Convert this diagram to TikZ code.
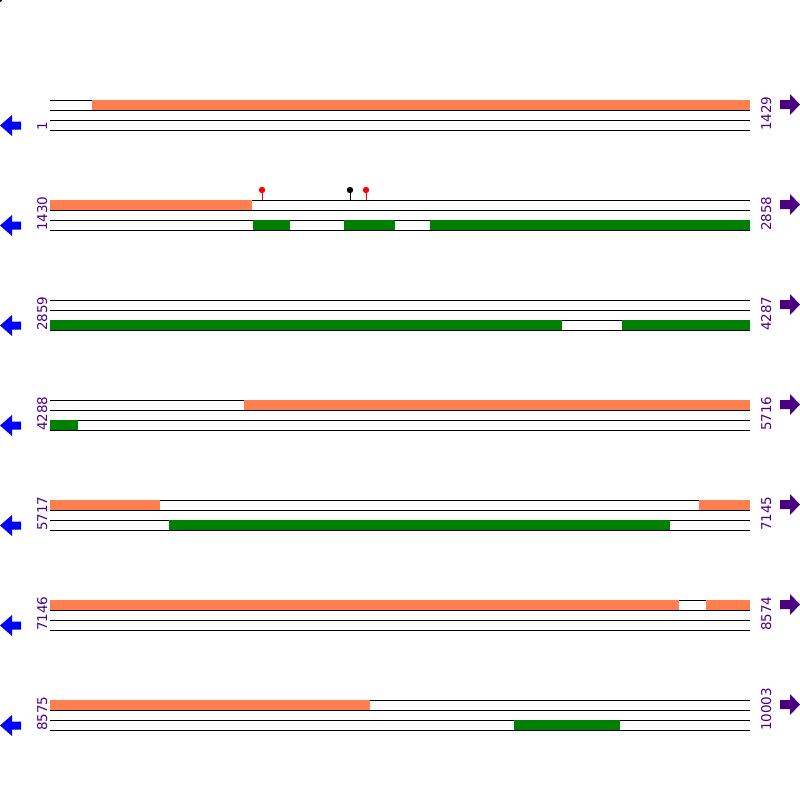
\documentclass[tikz,border=0pt]{standalone}
\usepackage{fontspec}
\setmainfont{DejaVu Sans}
\definecolor{fwdc}{HTML}{FF7F50}
\definecolor{revc}{HTML}{008000}
\definecolor{lblc}{HTML}{4B0082}
\definecolor{arrc}{HTML}{0000FF}
\begin{document}
\begin{tikzpicture}[x=1pt,y=-1pt,
  strand/.style={black,line width=1pt},
  fwdbox/.style={fill=fwdc},
  revbox/.style={fill=revc},
  numlbl/.style={text=lblc,font=\fontsize{13.5}{16}\selectfont,inner sep=0pt,rotate=90,anchor=base west},
  leftarr/.style={fill=arrc},
  rightarr/.style={fill=lblc},
  pinstem/.style={line width=1pt},
]
\useasboundingbox (0,0) rectangle (800,800);
\fill[black] (0,0) circle (2);
% strands, labels, arrows
\foreach \l/\r [count=\i] in {1/1429,1430/2858,2859/4287,4288/5716,5717/7145,7146/8574,8575/10003}{
  \pgfmathsetmacro\yy{100*\i}
  \draw[strand] (50,\yy) -- (750,\yy);
  \draw[strand] (50,\yy+10) -- (750,\yy+10);
  \draw[strand] (50,\yy+20) -- (750,\yy+20);
  \draw[strand] (50,\yy+30) -- (750,\yy+30);
  \node[numlbl] (L\i) at (47,\yy+31) {\l};
  \node[numlbl] (R\i) at (771,\yy+31) {\r};
  \fill[leftarr] (0,\yy+25.5) -- (12,\yy+15) -- (12,\yy+21.5) -- (21,\yy+21.5) -- (21,\yy+29.5) -- (12,\yy+29.5) -- (12,\yy+36) -- cycle;
  \fill[rightarr] (800,\yy+4.5) -- (790,\yy-6) -- (790,\yy) -- (780,\yy) -- (780,\yy+9) -- (790,\yy+9) -- (790,\yy+15) -- cycle;
}
% row 1
\fill[fwdbox] (92,100) rectangle (750,110);
% row 2
\fill[fwdbox] (50,200) rectangle (252,210);
\fill[revbox] (253,220) rectangle (290,230);
\fill[revbox] (344,220) rectangle (395,230);
\fill[revbox] (430,220) rectangle (750,230);
\draw[pinstem,red] (262,190) -- (262,200);
\fill[red] (262,190) circle (3.2);
\draw[pinstem,black] (350,190) -- (350,200);
\fill[black] (350,190) circle (3.2);
\draw[pinstem,red] (366,190) -- (366,200);
\fill[red] (366,190) circle (3.2);
% row 3
\fill[revbox] (50,320) rectangle (562,330);
\fill[revbox] (622,320) rectangle (750,330);
% row 4
\fill[fwdbox] (244,400) rectangle (750,410);
\fill[revbox] (50,420) rectangle (78,430);
% row 5
\fill[fwdbox] (50,500) rectangle (160,510);
\fill[fwdbox] (699,500) rectangle (750,510);
\fill[revbox] (169,520) rectangle (670,530);
% row 6
\fill[fwdbox] (50,600) rectangle (679,610);
\fill[fwdbox] (706,600) rectangle (750,610);
% row 7
\fill[fwdbox] (50,700) rectangle (370,710);
\fill[revbox] (514,720) rectangle (620,730);
\end{tikzpicture}
\end{document}
